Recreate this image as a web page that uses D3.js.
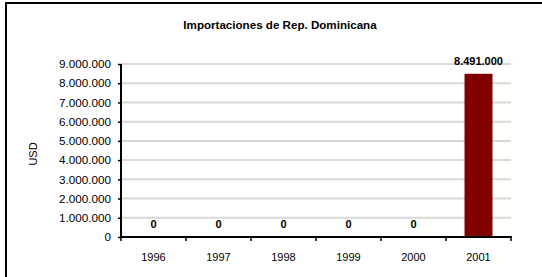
<!DOCTYPE html>
<html><head><meta charset="utf-8">
<script src="https://cdn.jsdelivr.net/npm/d3@7"></script>
<style>html,body{margin:0;padding:0;background:#fff;}svg{display:block;}</style>
</head><body>
<script>
const title = "Importaciones de Rep. Dominicana";
const yAxisLabel = "USD";
const years = ["1996","1997","1998","1999","2000","2001"];
const values = [0,0,0,0,0,8491000];
const yTicks = [0,1000000,2000000,3000000,4000000,5000000,6000000,7000000,8000000,9000000];

(function(){
const W = 542, H = 277;
const svg = d3.select("body").append("svg").attr("width", W).attr("height", H);
const font = "Arial, 'Liberation Sans', sans-serif";

// outer border
svg.append("rect").attr("x", 6).attr("y", 3).attr("width", W).attr("height", H)
  .attr("fill", "none").attr("stroke", "#000").attr("stroke-width", 2);

const pL = 121, pR = 511, pT = 64, pB = 237;
const x = d3.scaleBand().domain(years).range([pL, pR]).paddingInner(0.57).paddingOuter(0.285);
const xb = d3.scaleBand().domain(years).range([pL, pR]);
const y = d3.scaleLinear().domain([0, 9000000]).range([pB, pT]);
const fmt = v => d3.format(",")(v).replace(/,/g, ".");

// gridlines
svg.append("g").selectAll("line").data(yTicks.filter(d => d > 0)).join("line")
  .attr("x1", pL).attr("x2", pR)
  .attr("y1", d => y(d)).attr("y2", d => y(d))
  .attr("stroke", "#d9d9d9").attr("stroke-width", 2);

// bars
svg.append("g").selectAll("rect").data(values).join("rect")
  .attr("x", (d, i) => x(years[i])).attr("width", x.bandwidth())
  .attr("y", d => y(d)).attr("height", d => pB - y(d))
  .attr("fill", "#800000");

// y axis
const ya = svg.append("g").attr("transform", `translate(${pL},0)`)
  .call(d3.axisLeft(y).tickValues(yTicks).tickFormat(fmt).tickSize(3).tickPadding(7));
ya.select(".domain").attr("stroke", "#000").attr("stroke-width", 2).attr("d", `M0,${pT}V${pB}`);
ya.selectAll(".tick line").attr("stroke", "#000").attr("stroke-width", 1.5);
ya.selectAll("text").attr("font-family", font).attr("font-size", 11.7).attr("fill", "#000");

// x axis
const xa = svg.append("g").attr("transform", `translate(0,${pB})`);
xa.append("line").attr("x1", pL).attr("x2", pR + 1).attr("stroke", "#000").attr("stroke-width", 2);
const bounds = years.map(d => xb(d)).concat([pR]);
xa.selectAll(".tk").data(bounds).join("line").attr("class", "tk")
  .attr("x1", d => d).attr("x2", d => d).attr("y1", 0).attr("y2", 4)
  .attr("stroke", "#000").attr("stroke-width", 1.5);
xa.selectAll("text").data(years).join("text")
  .attr("x", d => xb(d) + xb.bandwidth() / 2).attr("y", 24)
  .attr("text-anchor", "middle").attr("font-family", font).attr("font-size", 11).attr("fill", "#000")
  .text(d => d);

// value labels
svg.append("g").selectAll("text").data(values).join("text")
  .attr("x", (d, i) => xb(years[i]) + xb.bandwidth() / 2)
  .attr("y", d => y(d) - 9)
  .attr("text-anchor", "middle").attr("font-family", font).attr("font-size", 11)
  .attr("font-weight", "bold").attr("fill", "#000")
  .text(d => fmt(d));

// title
svg.append("text").attr("x", 280).attr("y", 29).attr("text-anchor", "middle")
  .attr("font-family", font).attr("font-size", 11.6).attr("font-weight", "bold").text(title);

// y axis label
svg.append("text").attr("transform", "translate(37,154) rotate(-90)").attr("text-anchor", "middle")
  .attr("font-family", font).attr("font-size", 11).text(yAxisLabel);
})();
</script>
</body></html>
